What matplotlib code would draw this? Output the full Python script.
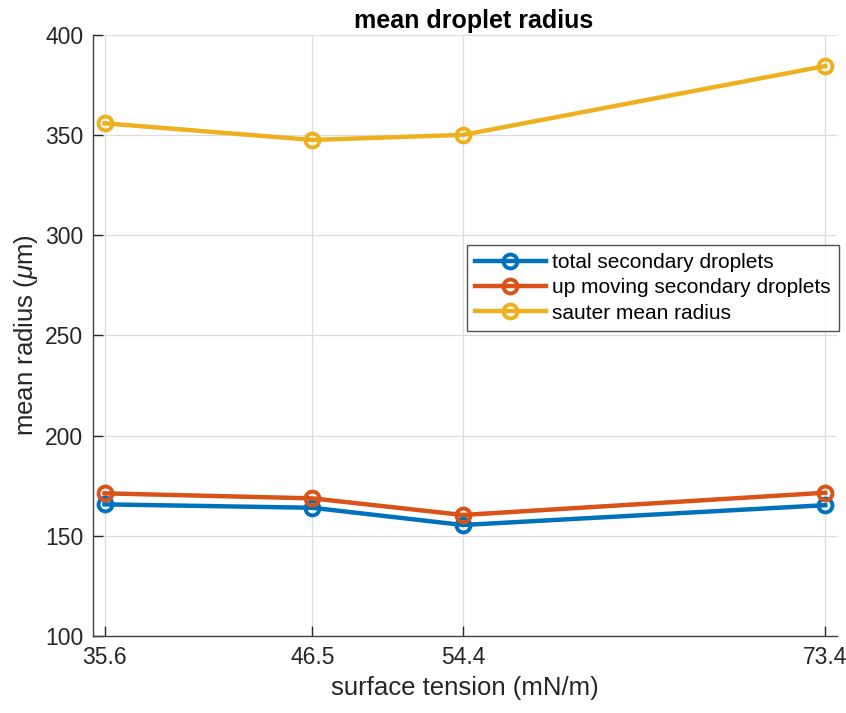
import matplotlib
matplotlib.use('Agg')
import numpy as np
import matplotlib.pyplot as plt

plt.rcParams['font.family'] = ['Liberation Sans', 'DejaVu Sans']
plt.rcParams['mathtext.fontset'] = 'custom'
plt.rcParams['mathtext.it'] = 'Liberation Sans:italic'
plt.rcParams['mathtext.rm'] = 'Liberation Sans'

tension = [35.6, 46.5, 54.4, 73.4]
total_sec = [165.7, 164.0, 155.4, 165.3]
up_moving = [171.2, 168.7, 160.4, 171.5]
sauter = [355.9, 347.6, 350.1, 384.5]

names = ['total secondary droplets', 'up moving secondary droplets', 'sauter mean radius']
colors = ['#0072BD', '#D95319', '#EDB120']

fig = plt.figure(figsize=(8.46, 7.13), dpi=100)
ax = fig.add_axes([0.110, 0.108, 0.879, 0.843])

for ys, name, c in zip([total_sec, up_moving, sauter], names, colors):
    ax.plot(tension, ys, '-o', color=c, lw=3.2, ms=10, mfc='none', mew=2.8, label=name)

ax.set_xlim(35, 74)
ax.set_ylim(100, 400)
ax.set_xticks(tension)
ax.set_xticklabels(['35.6', '46.5', '54.4', '73.4'])
ax.set_yticks(np.arange(100, 401, 50))
ax.grid(True, color='#dcdcdc', lw=0.9)
ax.set_axisbelow(True)
for s in ['top', 'right']:
    ax.spines[s].set_visible(False)
for s in ['left', 'bottom']:
    ax.spines[s].set_color('#404040')
    ax.spines[s].set_linewidth(1.0)
ax.tick_params(direction='in', length=7, width=1, colors='#262626', labelsize=16.5, pad=7)

ax.set_title('mean droplet radius', fontsize=18, fontweight='bold', pad=5, x=0.512)
ax.set_xlabel('surface tension (mN/m)', fontsize=18.5, color='#262626', labelpad=5)
ax.set_ylabel(r'mean radius ($\mu$m)', fontsize=18.5, color='#262626', labelpad=4)

leg = ax.legend(loc='upper right', bbox_to_anchor=(1.003, 0.651), borderaxespad=0,
                fontsize=15, frameon=True, fancybox=False, edgecolor='#262626',
                handlelength=3.4, borderpad=0.4, labelspacing=0.3, handletextpad=0.3)
leg.get_frame().set_linewidth(1.0)

fig.savefig('out.png', dpi=100)
